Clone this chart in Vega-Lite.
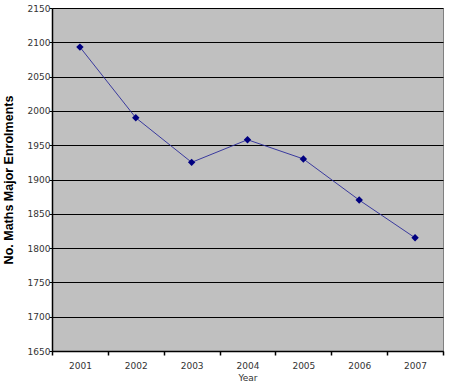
{
  "$schema": "https://vega.github.io/schema/vega-lite/v6.json",
  "autosize": "none",
  "width": 391,
  "height": 343,
  "padding": {"left": 52, "top": 8, "right": 9, "bottom": 34},
  "background": "white",
  "config": {"view": {"fill": "#C0C0C0", "stroke": "#808080", "strokeWidth": 1}},
  "data": {"values": [
    {"Year": "2001", "Enrolments": 2093},
    {"Year": "2002", "Enrolments": 1990},
    {"Year": "2003", "Enrolments": 1925},
    {"Year": "2004", "Enrolments": 1958},
    {"Year": "2005", "Enrolments": 1930},
    {"Year": "2006", "Enrolments": 1870},
    {"Year": "2007", "Enrolments": 1815}
  ]},
  "encoding": {
    "x": {"field": "Year", "type": "ordinal", "scale": {"paddingInner": 0, "paddingOuter": 0},
      "axis": {"title": "Year", "labelAngle": 0, "tickBand": "extent", "grid": false,
        "domainColor": "black", "domainWidth": 1.5, "tickColor": "black", "tickSize": 4, "tickWidth": 1.5,
        "labelFont": "DejaVu Sans", "labelFontSize": 9, "labelColor": "#333", "labelPadding": 6,
        "titleFont": "DejaVu Sans", "titleFontSize": 9, "titleFontWeight": "normal", "titleColor": "#333", "titlePadding": 3}},
    "y": {"field": "Enrolments", "type": "quantitative", "scale": {"domain": [1650, 2150], "nice": false, "zero": false},
      "axis": {"title": "No. Maths Major Enrolments", "format": "d", "values": [1650,1700,1750,1800,1850,1900,1950,2000,2050,2100,2150],
        "grid": true, "gridColor": "black", "gridWidth": 1.2, "gridOpacity": 1,
        "domainColor": "black", "domainWidth": 1.5, "tickColor": "black", "tickSize": 3,
        "labelFont": "DejaVu Sans", "labelFontSize": 9, "labelColor": "#333", "labelPadding": -1,
        "titleFont": "Liberation Sans", "titleFontSize": 12.5, "titleFontWeight": "bold", "titleColor": "black", "titlePadding": 12}}
  },
  "layer": [
    {"mark": {"type": "line", "color": "#2A2A9A", "strokeWidth": 0.9}},
    {"mark": {"type": "point", "shape": "diamond", "filled": true, "color": "#000080", "size": 55, "opacity": 1}}
  ]
}
